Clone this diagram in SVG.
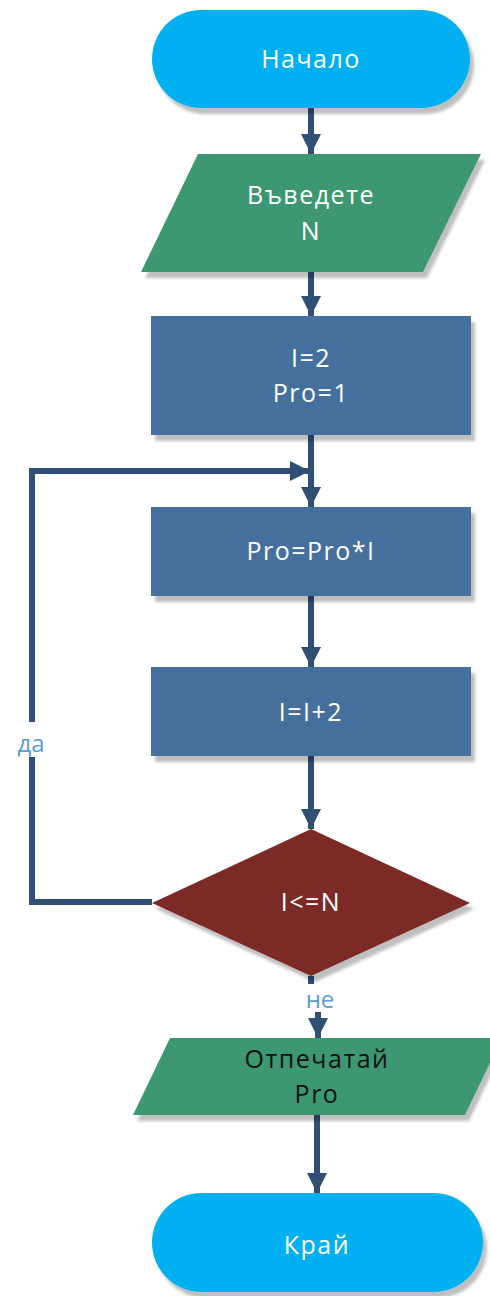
<svg xmlns="http://www.w3.org/2000/svg" width="490" height="1296" viewBox="0 0 490 1296">
  <style>
    .lbl { font-family: "Open Sans", "Liberation Sans", sans-serif; font-size: 25px; text-anchor: middle; letter-spacing: 1.5px; fill: #FFFFFF; }
    .dark { fill: #111111; }
    .edge { fill: none; stroke: #2F4F75; stroke-width: 6; }
    .tag { font-family: "Open Sans", "Liberation Sans", sans-serif; font-size: 24px; fill: #5B9BD5; text-anchor: middle; }
    .term { fill: #00B0F0; filter: url(#shadow); }
    .io { fill: #3C9871; filter: url(#shadow); }
    .proc { fill: #44709D; filter: url(#shadow); }
    .dec { fill: #7B2C27; filter: url(#shadow); }
  </style>
  <defs>
    <filter id="shadow" x="-10%" y="-10%" width="130%" height="140%">
      <feDropShadow dx="4" dy="6" stdDeviation="1.6" flood-color="#000000" flood-opacity="0.25"/>
    </filter>
    <marker id="arrow" viewBox="0 0 20 20" refX="20" refY="10" markerWidth="20" markerHeight="20" markerUnits="userSpaceOnUse" orient="auto">
      <path d="M0,0 L20,10 L0,20 Z" fill="#2F4F75"/>
    </marker>
  </defs>

  <!-- flow lines -->
  <g id="connectors">
    <line class="edge" x1="311" y1="108" x2="311" y2="154" marker-end="url(#arrow)"/>
    <line class="edge" x1="311" y1="272" x2="311" y2="316" marker-end="url(#arrow)"/>
    <line class="edge" x1="311" y1="435" x2="311" y2="507" marker-end="url(#arrow)"/>
    <line class="edge" x1="311" y1="596" x2="311" y2="667" marker-end="url(#arrow)"/>
    <line class="edge" x1="311" y1="756" x2="311" y2="829" marker-end="url(#arrow)"/>
    <!-- loop back: yes branch -->
    <path class="edge" d="M152,902 H32 V471 H310" marker-end="url(#arrow)"/>
    <!-- no branch -->
    <path class="edge" d="M311,976 V998 H318 V1038" marker-end="url(#arrow)"/>
    <line class="edge" x1="317" y1="1115" x2="317" y2="1193" marker-end="url(#arrow)"/>
    <!-- branch labels -->
    <rect x="10" y="722" width="44" height="35" fill="#FFFFFF"/>
    <text class="tag" x="31" y="752">да</text>
    <rect x="300" y="984" width="40" height="28" fill="#FFFFFF"/>
    <text class="tag" x="320" y="1008">не</text>
  </g>

  <g id="start">
    <rect class="term" x="152" y="10" width="318" height="98" rx="49" ry="49"/>
    <text class="lbl" x="311" y="68" letter-spacing="0">Начало</text>
  </g>

  <g id="input">
    <polygon class="io" points="198,154 481,154 423,272 141,272"/>
    <text class="lbl" x="311" y="204" letter-spacing="3.5">Въведете</text>
    <text class="lbl" x="311" y="240">N</text>
  </g>

  <g id="init">
    <rect class="proc" x="151" y="316" width="320" height="119"/>
    <text class="lbl" x="311" y="367">I=2</text>
    <text class="lbl" x="311" y="402">Pro=1</text>
  </g>

  <g id="multiply">
    <rect class="proc" x="151" y="507" width="320" height="89"/>
    <text class="lbl" x="311" y="560" letter-spacing="2">Pro=Pro*I</text>
  </g>

  <g id="increment">
    <rect class="proc" x="151" y="667" width="320" height="89"/>
    <text class="lbl" x="311" y="721">I=I+2</text>
  </g>

  <g id="check">
    <polygon class="dec" points="311,829 470,903 311,976 152,903"/>
    <text class="lbl" x="311" y="911" letter-spacing="0">I&lt;=N</text>
  </g>

  <g id="output">
    <polygon class="io" points="170,1038 502,1038 465,1115 133,1115"/>
    <text class="lbl dark" x="317" y="1068">Отпечатай</text>
    <text class="lbl dark" x="317" y="1103">Pro</text>
  </g>

  <g id="end">
    <rect class="term" x="152" y="1193" width="331" height="99" rx="49.5" ry="49.5"/>
    <text class="lbl" x="317" y="1254" letter-spacing="2">Край</text>
  </g>
</svg>
